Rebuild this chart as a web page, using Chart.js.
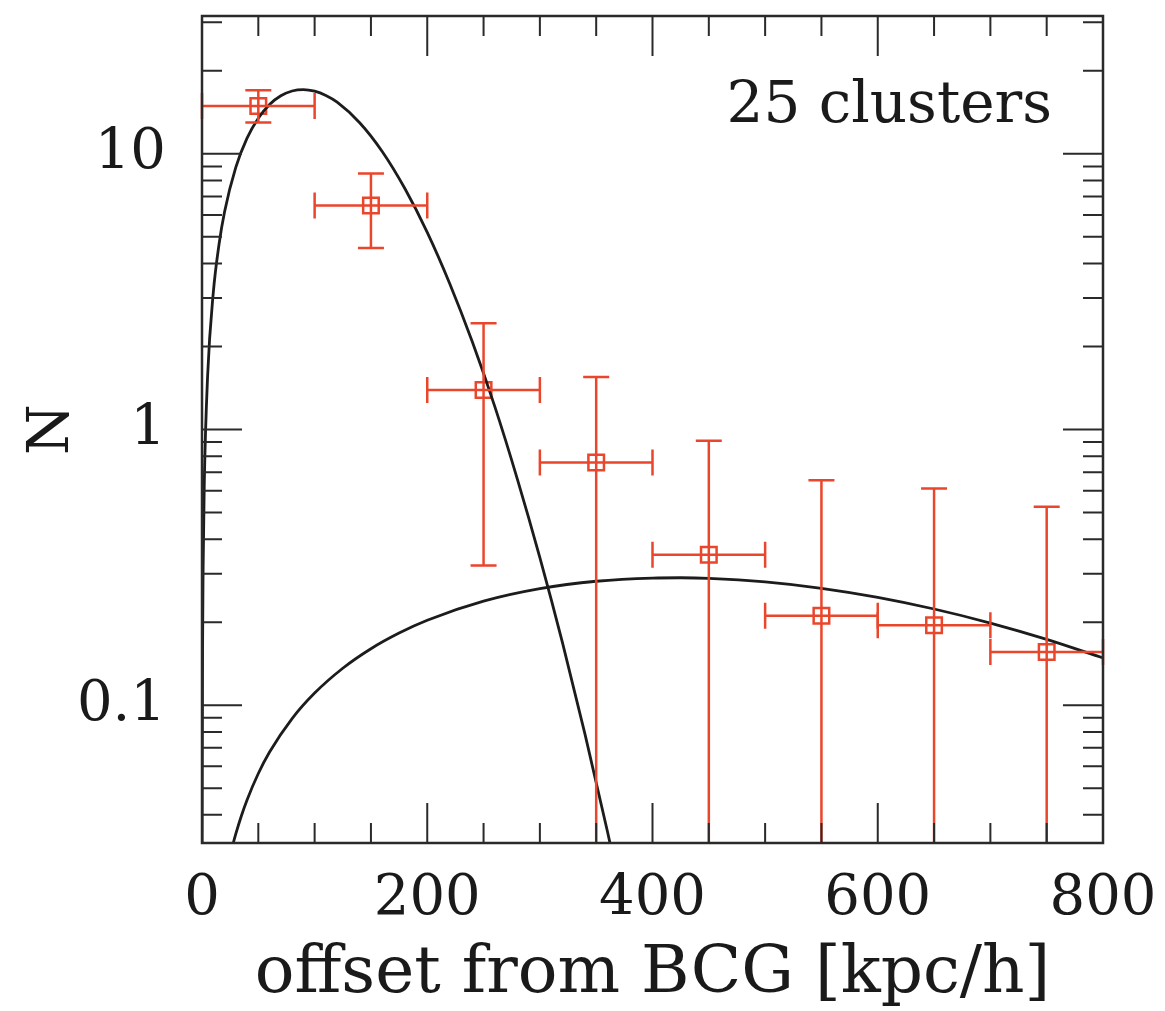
<!DOCTYPE html>
<html>
<head>
<meta charset="utf-8">
<title>Offset from BCG</title>
<script src="https://cdn.jsdelivr.net/npm/chart.js@4.4.1/dist/chart.umd.min.js"></script>
<style>
  html, body { margin: 0; padding: 0; background: #fff; }
  #wrap { width: 1165px; height: 1011px; }
</style>
</head>
<body>
<div id="wrap"><canvas id="offsetChart"></canvas></div>
<script>
// Binned counts vs offset from the BCG (kpc/h)
const binMid = [50, 150, 250, 350, 450, 550, 650, 750];
const binLo = [0, 100, 200, 300, 400, 500, 600, 700];
const binHi = [100, 200, 300, 400, 500, 600, 700, 800];
const counts = [14.9, 6.49, 1.39, 0.759, 0.351, 0.211, 0.195, 0.156];
const countsUp = [17.0, 8.48, 2.43, 1.55, 0.91, 0.655, 0.611, 0.524];
// null = lower error bar runs off the bottom of the plot
const countsDown = [13.0, 4.55, 0.321, null, null, null, null, null];

// Narrow model curve
const narrowX = [0.1, 0.5, 1, 2, 5, 10, 15, 20, 30, 40, 50, 60, 70, 80, 90, 100, 110, 120,
    140, 160, 180, 200, 220, 240, 260, 280, 300, 320, 340, 360, 370];
const narrowN = [0.0315, 0.158, 0.315, 0.63, 1.57, 3.13, 4.66, 6.15, 8.93, 11.4, 13.47, 15.1,
    16.24, 16.9, 17.1, 16.87, 16.28, 15.39, 12.97, 10.2, 7.5, 5.19, 3.38, 2.08, 1.21, 0.661,
    0.343, 0.169, 0.0787, 0.0348, 0.0227];

// Broad model curve
const broadX = [20, 27, 30, 35, 40, 50, 60, 80, 100, 125, 150, 175, 200, 250, 300, 350, 400,
    425, 450, 500, 550, 600, 650, 700, 750, 800];
const broadN = [0.0228, 0.0307, 0.0341, 0.0397, 0.0453, 0.0565, 0.0676, 0.0894, 0.1106, 0.1361,
    0.1602, 0.1826, 0.2032, 0.2383, 0.2645, 0.2815, 0.2892, 0.2899, 0.2885, 0.2801, 0.2655,
    0.2461, 0.2233, 0.1986, 0.1733, 0.1484];

// Axis ticks
const xLabelTicks = [0, 200, 400, 600, 800];
const yLabelTicks = [0.1, 1, 10];
const yMin = 0.031623;
const yMax = 31.623;

const red = "rgb(234, 70, 44)";
const ink = "#2a2a2a";
const serif = "'DejaVu Serif', serif";

Chart.defaults.font.family = serif;
Chart.defaults.color = "#1a1a1a";

// Error bars for the binned points
const errorBars = {
    id: "errorBars",
    afterDatasetsDraw(chart) {
        const { ctx, chartArea: area, scales: { x, y } } = chart;
        const cap = 13;
        ctx.save();
        ctx.beginPath();
        ctx.rect(area.left - 3, area.top, area.right - area.left + 6, area.bottom - area.top);
        ctx.clip();
        ctx.strokeStyle = red;
        ctx.lineWidth = 2.5;
        binMid.forEach((m, i) => {
            const px = x.getPixelForValue(m);
            const py = y.getPixelForValue(counts[i]);
            const top = y.getPixelForValue(countsUp[i]);
            const bottom = countsDown[i] === null ? area.bottom + 5 : y.getPixelForValue(countsDown[i]);
            const left = x.getPixelForValue(binLo[i]);
            const right = x.getPixelForValue(binHi[i]);
            ctx.beginPath();
            ctx.moveTo(px, top); ctx.lineTo(px, bottom);
            ctx.moveTo(left, py); ctx.lineTo(right, py);
            ctx.moveTo(px - cap, top); ctx.lineTo(px + cap, top);
            if (countsDown[i] !== null) {
                ctx.moveTo(px - cap, bottom); ctx.lineTo(px + cap, bottom);
            }
            ctx.moveTo(left, py - cap); ctx.lineTo(left, py + cap);
            ctx.moveTo(right, py - cap); ctx.lineTo(right, py + cap);
            ctx.stroke();
        });
        ctx.restore();
    }
};

// Box frame with inward ticks on all four sides, plus the label
const frame = {
    id: "frame",
    afterDraw(chart) {
        const { ctx, chartArea: a, scales: { x, y } } = chart;
        ctx.save();
        ctx.strokeStyle = ink;
        ctx.lineWidth = 2;
        ctx.beginPath();
        for (let v = 0; v <= 800; v += 50) {
            const px = x.getPixelForValue(v);
            const len = v % 200 === 0 ? 40 : 20;
            ctx.moveTo(px, a.bottom); ctx.lineTo(px, a.bottom - len);
            ctx.moveTo(px, a.top); ctx.lineTo(px, a.top + len);
        }
        [0.01, 0.1, 1, 10].forEach(decade => {
            for (let k = 1; k <= 9; k++) {
                const v = decade * k;
                if (v < yMin || v > yMax) continue;
                const py = y.getPixelForValue(v);
                const len = k === 1 ? 40 : 20;
                ctx.moveTo(a.left, py); ctx.lineTo(a.left + len, py);
                ctx.moveTo(a.right, py); ctx.lineTo(a.right - len, py);
            }
        });
        ctx.stroke();
        ctx.lineWidth = 2.5;
        ctx.strokeRect(a.left, a.top, a.right - a.left, a.bottom - a.top);

        ctx.fillStyle = "#1a1a1a";
        ctx.font = "58px " + serif;
        ctx.textAlign = "right";
        ctx.textBaseline = "alphabetic";
        ctx.fillText("25 clusters", a.right - 51, a.top + 106);
        ctx.restore();
    }
};

const ctx = document.getElementById("offsetChart").getContext("2d");

new Chart(ctx, {
    type: "scatter",
    data: {
        datasets: [
            {
                label: "narrow",
                data: narrowX.map((v, i) => ({ x: v, y: narrowN[i] })),
                showLine: true,
                borderColor: "#1c1c1c",
                borderWidth: 2.8,
                pointRadius: 0,
                cubicInterpolationMode: "monotone"
            },
            {
                label: "broad",
                data: broadX.map((v, i) => ({ x: v, y: broadN[i] })),
                showLine: true,
                borderColor: "#1c1c1c",
                borderWidth: 2.8,
                pointRadius: 0,
                cubicInterpolationMode: "monotone"
            },
            {
                label: "clusters",
                data: binMid.map((v, i) => ({ x: v, y: counts[i] })),
                pointStyle: "rect",
                pointRadius: 11,
                borderColor: red,
                backgroundColor: "rgba(0,0,0,0)",
                borderWidth: 2.5
            }
        ]
    },
    options: {
        responsive: true,
        maintainAspectRatio: false,
        animation: false,
        layout: { padding: { top: 16, right: 62, left: 0, bottom: 0 } },
        plugins: {
            legend: { display: false },
            tooltip: { enabled: false }
        },
        scales: {
            x: {
                type: "linear",
                min: 0,
                max: 800,
                grid: { display: false, drawTicks: false },
                border: { display: false },
                afterBuildTicks: (scale) => { scale.ticks = xLabelTicks.map(v => ({ value: v })); },
                afterFit: (scale) => {
                    scale.height = 168;
                    scale.paddingLeft = 0;
                    scale.paddingRight = 0;
                },
                ticks: {
                    autoSkip: false,
                    maxRotation: 0,
                    padding: 23,
                    font: { size: 56 },
                    callback: (v) => String(v)
                },
                title: {
                    display: true,
                    text: "offset from BCG [kpc/h]",
                    font: { size: 66, lineHeight: 1 },
                    padding: { top: 0, bottom: 3 }
                }
            },
            y: {
                type: "logarithmic",
                min: yMin,
                max: yMax,
                grid: { display: false, drawTicks: false },
                border: { display: false },
                afterBuildTicks: (scale) => { scale.ticks = yLabelTicks.map(v => ({ value: v })); },
                afterFit: (scale) => {
                    scale.width = 202;
                    scale.paddingTop = 0;
                    scale.paddingBottom = 0;
                },
                ticks: {
                    autoSkip: false,
                    padding: 36,
                    font: { size: 56 },
                    callback: (v) => String(v)
                },
                title: {
                    display: true,
                    text: "N",
                    font: { size: 58, lineHeight: 1 },
                    padding: { top: 24, bottom: 0 }
                }
            }
        }
    },
    plugins: [errorBars, frame]
});
</script>
</body>
</html>
